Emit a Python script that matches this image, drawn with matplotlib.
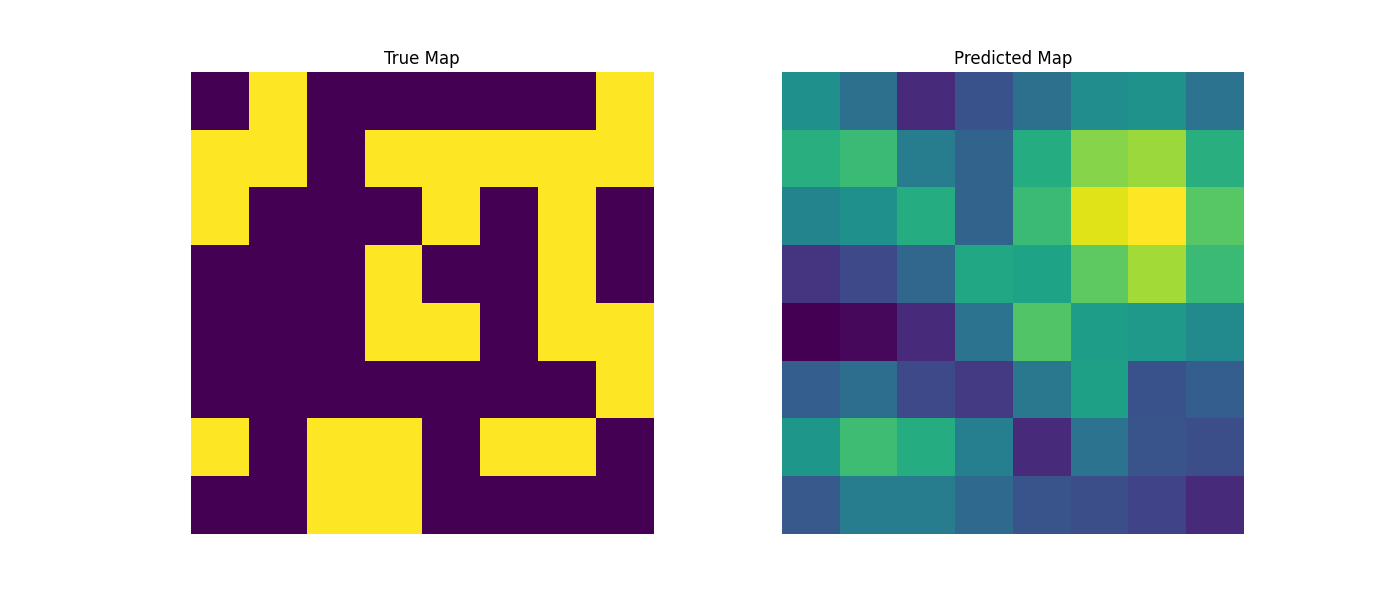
import numpy as np
import matplotlib
matplotlib.use('Agg')
import matplotlib.pyplot as plt

# True binary map (1 = yellow)
true_map = np.array([
    [0, 1, 0, 0, 0, 0, 0, 1],
    [1, 1, 0, 1, 1, 1, 1, 1],
    [1, 0, 0, 0, 1, 0, 1, 0],
    [0, 0, 0, 1, 0, 0, 1, 0],
    [0, 0, 0, 1, 1, 0, 1, 1],
    [0, 0, 0, 0, 0, 0, 0, 1],
    [1, 0, 1, 1, 0, 1, 1, 0],
    [0, 0, 1, 1, 0, 0, 0, 0],
])

# Predicted map
pred_map = np.array([
    [0.50, 0.37, 0.12, 0.25, 0.37, 0.49, 0.51, 0.38],
    [0.63, 0.68, 0.42, 0.32, 0.62, 0.82, 0.85, 0.63],
    [0.45, 0.50, 0.62, 0.32, 0.68, 0.95, 1.00, 0.74],
    [0.15, 0.22, 0.33, 0.60, 0.58, 0.75, 0.86, 0.68],
    [0.00, 0.02, 0.12, 0.38, 0.73, 0.56, 0.54, 0.48],
    [0.30, 0.36, 0.22, 0.17, 0.40, 0.57, 0.25, 0.30],
    [0.53, 0.69, 0.62, 0.43, 0.12, 0.38, 0.26, 0.24],
    [0.28, 0.42, 0.42, 0.34, 0.26, 0.24, 0.20, 0.12],
])

fig, axes = plt.subplots(1, 2, figsize=(14, 6), dpi=100)

axes[0].imshow(true_map, cmap='viridis')
axes[0].set_title('True Map')
axes[0].axis('off')

axes[1].imshow(pred_map, cmap='viridis')
axes[1].set_title('Predicted Map')
axes[1].axis('off')

plt.savefig('out.png')
